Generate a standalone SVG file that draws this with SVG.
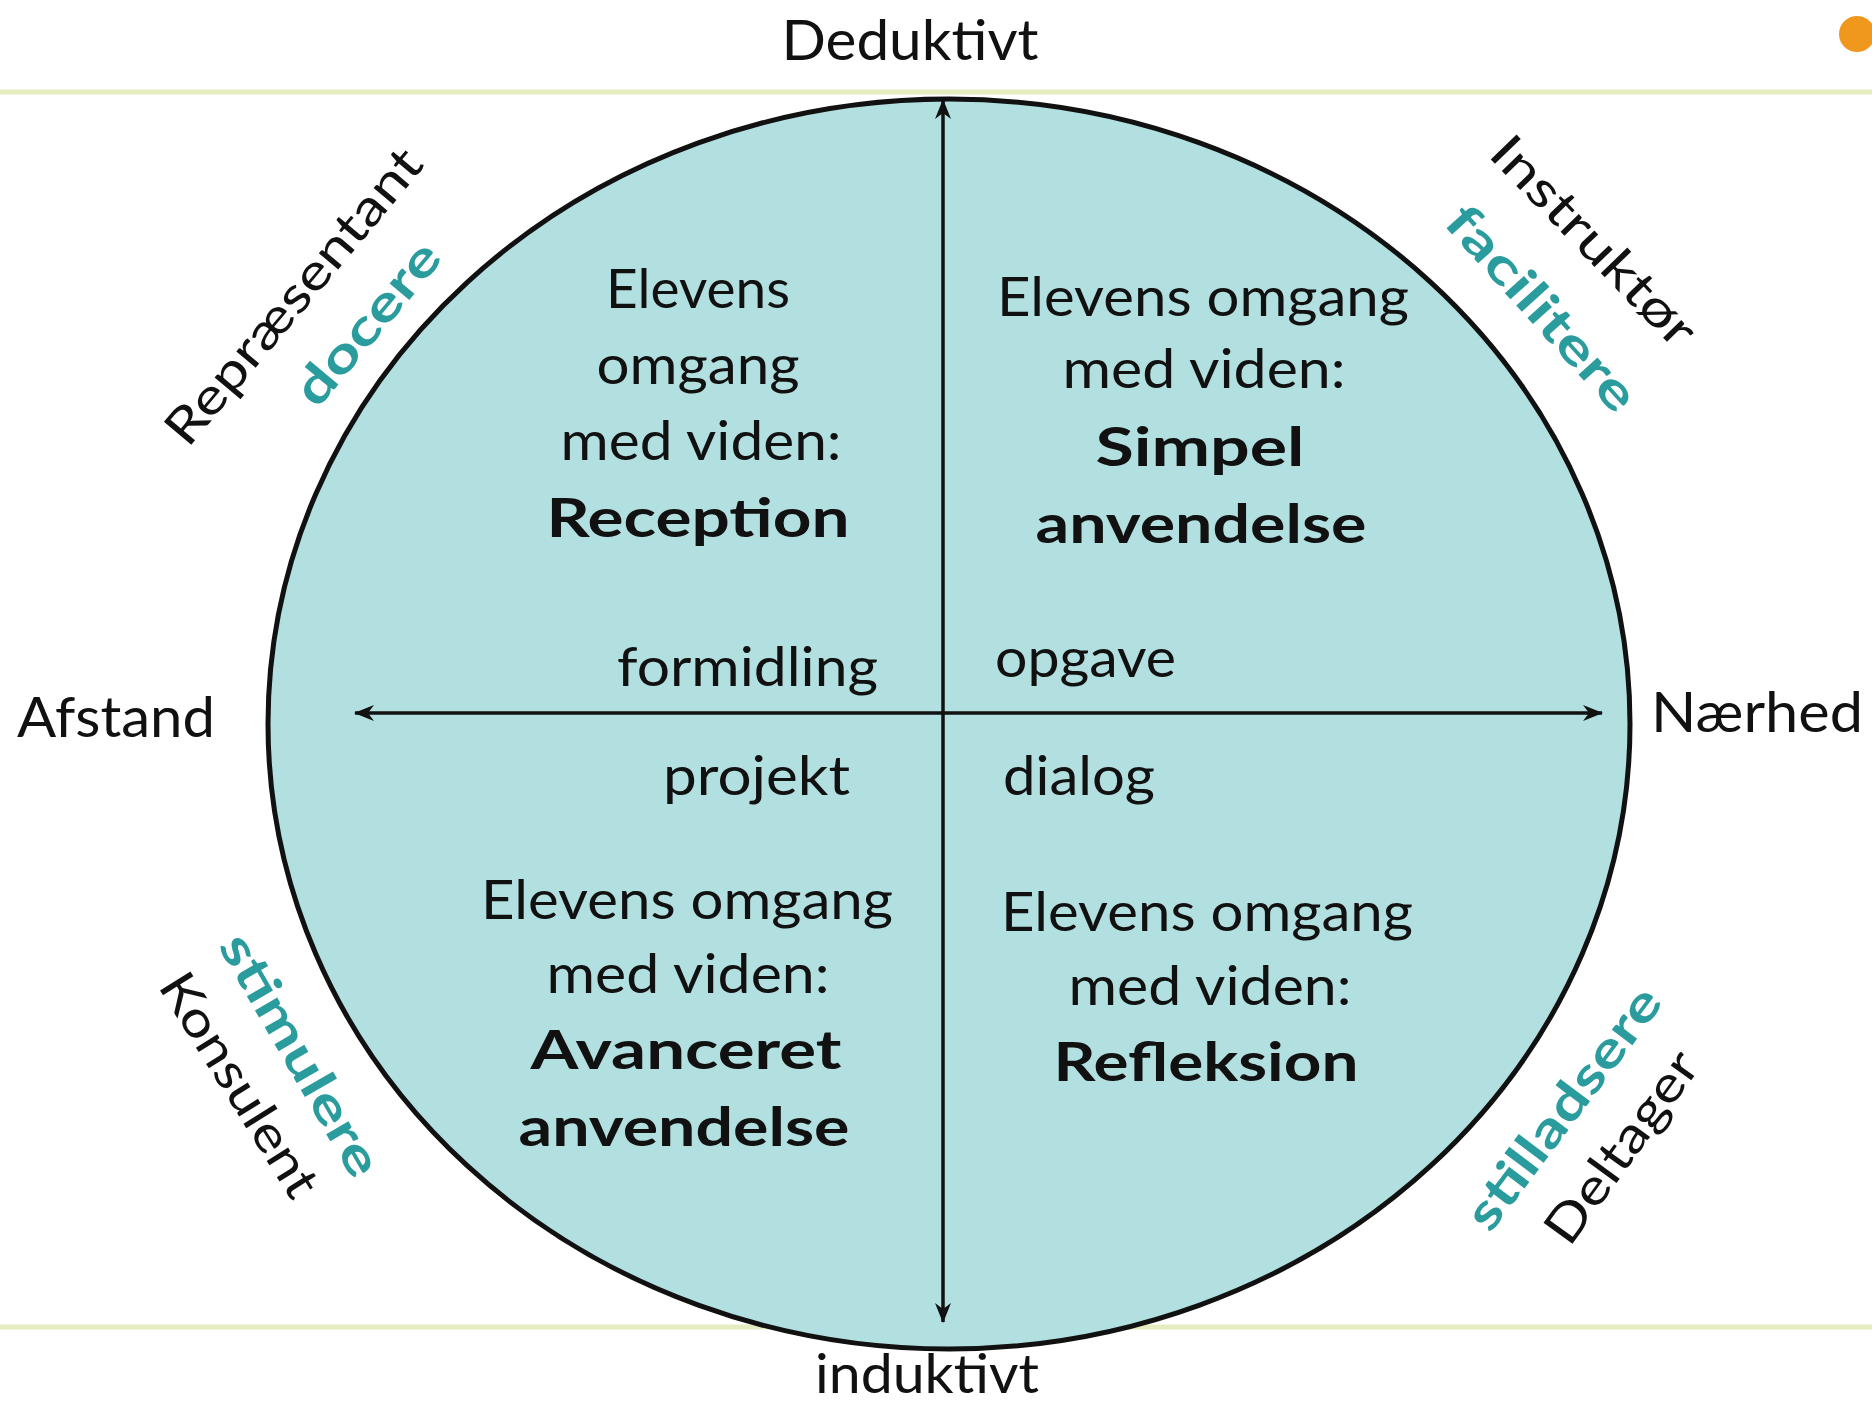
<svg xmlns="http://www.w3.org/2000/svg" width="1872" height="1405" viewBox="0 0 1872 1405">
<defs>
<style>
.t{font-family:Lato,"Open Sans","Liberation Sans",sans-serif;fill:#111;}
.q{font-size:54px;text-anchor:middle;}
.b{font-weight:bold;}
.r{font-size:50px;text-anchor:middle;dominant-baseline:central;}
.tl{fill:#2b9c9e;font-weight:bold;}
.ax{stroke:#111;stroke-width:3.5;fill:none;}
.rule{stroke:#e6ecc0;stroke-width:5;}
</style>
<marker id="ah" viewBox="0 0 20 16" refX="19" refY="8" markerWidth="20" markerHeight="16" markerUnits="userSpaceOnUse" orient="auto-start-reverse">
<path d="M0,0 L20,8 L0,16 L6,8 Z" fill="#111"/>
</marker>
</defs>
<rect width="1872" height="1405" fill="#fff"/>
<g id="rules">
<line class="rule" x1="0" y1="92" x2="1872" y2="92"/>
<line class="rule" x1="0" y1="1327" x2="1872" y2="1327"/>
</g>
<circle id="dot" cx="1857" cy="34" r="18" fill="#f0981e"/>
<g id="circle">
<ellipse cx="949" cy="724" rx="681" ry="625" fill="#b2dfdf" stroke="#111" stroke-width="5"/>
</g>
<g id="connectors">
<line class="ax" x1="943" y1="100" x2="943" y2="1322" marker-start="url(#ah)" marker-end="url(#ah)"/>
<line class="ax" x1="355" y1="713" x2="1602" y2="713" marker-start="url(#ah)" marker-end="url(#ah)"/>
</g>
<g id="axis-labels">
<text class="t" x="910" y="60" font-size="56" text-anchor="middle" textLength="257" lengthAdjust="spacingAndGlyphs">Deduktivt</text>
<text class="t" x="927" y="1393" font-size="54" text-anchor="middle" textLength="224" lengthAdjust="spacingAndGlyphs">induktivt</text>
<text class="t" x="17" y="737" font-size="56" textLength="198" lengthAdjust="spacingAndGlyphs">Afstand</text>
<text class="t" x="1651" y="732" font-size="56" textLength="212" lengthAdjust="spacingAndGlyphs">Nærhed</text>
</g>
<g id="inner-labels">
<text class="t" x="617" y="686" font-size="54" textLength="261" lengthAdjust="spacingAndGlyphs">formidling</text>
<text class="t" x="995" y="677" font-size="54" textLength="181" lengthAdjust="spacingAndGlyphs">opgave</text>
<text class="t" x="663" y="795" font-size="54" textLength="187" lengthAdjust="spacingAndGlyphs">projekt</text>
<text class="t" x="1003" y="795" font-size="54" textLength="152" lengthAdjust="spacingAndGlyphs">dialog</text>
</g>
<g id="q-reception">
<text class="t q" x="698" y="308" textLength="184" lengthAdjust="spacingAndGlyphs">Elevens</text>
<text class="t q" x="698" y="384" textLength="203" lengthAdjust="spacingAndGlyphs">omgang</text>
<text class="t q" x="701" y="460" textLength="281" lengthAdjust="spacingAndGlyphs">med viden:</text>
<text class="t q b" x="698" y="537" textLength="303" lengthAdjust="spacingAndGlyphs">Reception</text>
</g>
<g id="q-simpel">
<text class="t q" x="1203" y="316" textLength="412" lengthAdjust="spacingAndGlyphs">Elevens omgang</text>
<text class="t q" x="1204" y="388" textLength="283" lengthAdjust="spacingAndGlyphs">med viden:</text>
<text class="t q b" x="1200" y="466" textLength="209" lengthAdjust="spacingAndGlyphs">Simpel</text>
<text class="t q b" x="1201" y="543" textLength="331" lengthAdjust="spacingAndGlyphs">anvendelse</text>
</g>
<g id="q-avanceret">
<text class="t q" x="687" y="919" textLength="412" lengthAdjust="spacingAndGlyphs">Elevens omgang</text>
<text class="t q" x="688" y="993" textLength="283" lengthAdjust="spacingAndGlyphs">med viden:</text>
<text class="t q b" x="686" y="1069" textLength="311" lengthAdjust="spacingAndGlyphs">Avanceret</text>
<text class="t q b" x="684" y="1146" textLength="331" lengthAdjust="spacingAndGlyphs">anvendelse</text>
</g>
<g id="q-refleksion">
<text class="t q" x="1207" y="931" textLength="412" lengthAdjust="spacingAndGlyphs">Elevens omgang</text>
<text class="t q" x="1210" y="1005" textLength="283" lengthAdjust="spacingAndGlyphs">med viden:</text>
<text class="t q b" x="1206" y="1081" textLength="305" lengthAdjust="spacingAndGlyphs">Refleksion</text>
</g>
<g id="role-tl">
<text class="t r" transform="translate(292,295) rotate(-50)" textLength="370" lengthAdjust="spacingAndGlyphs">Repræsentant</text>
<text class="t r tl" transform="translate(366,322) rotate(-50)" textLength="197" lengthAdjust="spacingAndGlyphs">docere</text>
</g>
<g id="role-tr">
<text class="t r" transform="translate(1595,240) rotate(46)" textLength="272" lengthAdjust="spacingAndGlyphs">Instruktør</text>
<text class="t r tl" transform="translate(1543,307) rotate(48)" textLength="259" lengthAdjust="spacingAndGlyphs">facilitere</text>
</g>
<g id="role-bl">
<text class="t r tl" transform="translate(302,1054) rotate(60)" textLength="272" lengthAdjust="spacingAndGlyphs">stimulere</text>
<text class="t r" transform="translate(241,1084) rotate(58)" textLength="255" lengthAdjust="spacingAndGlyphs">Konsulent</text>
</g>
<g id="role-br">
<text class="t r tl" transform="translate(1562,1107) rotate(-53)" textLength="290" lengthAdjust="spacingAndGlyphs">stilladsere</text>
<text class="t r" transform="translate(1620,1146) rotate(-54)" textLength="225" lengthAdjust="spacingAndGlyphs">Deltager</text>
</g>
</svg>
